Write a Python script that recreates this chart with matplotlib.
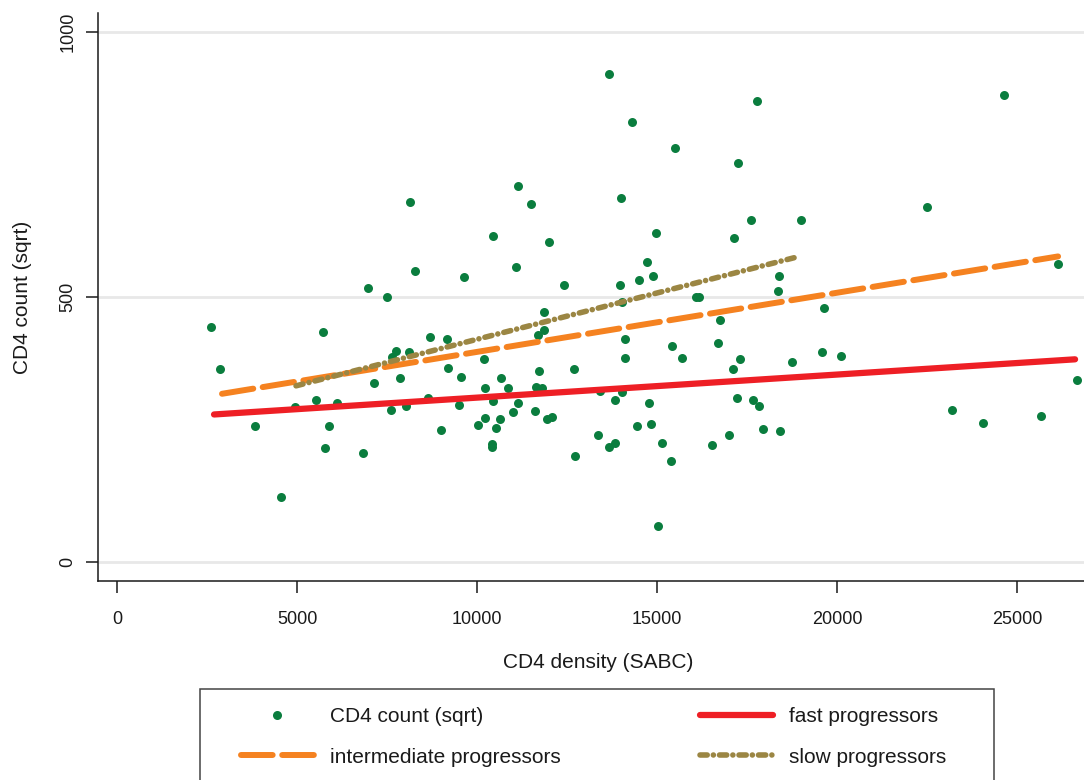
import matplotlib
matplotlib.use("Agg")
import matplotlib.pyplot as plt
from matplotlib.lines import Line2D
from matplotlib.patches import Rectangle

plt.rcParams['font.family'] = ['Liberation Sans', 'DejaVu Sans']

# CD4 density (SABC) vs CD4 count (sqrt)
cd4_density = [2620, 2870, 3825, 4564, 4936, 5537, 5731, 5889, 5787, 6103,
               6981, 6842, 7148, 7509, 7603, 7648, 7759, 8103, 7870, 8028,
               8278, 8703, 8648, 9001, 9176, 9204, 9565, 9509, 9648, 10037,
               10195, 10215, 10231, 10437, 10426, 10426, 10537, 10640, 10676, 10870,
               11009, 11148, 11084, 11612, 11631, 11815, 11731, 11704, 11862, 11862,
               11954, 13659, 14315, 15510, 17788, 17260, 11140, 11509, 10445, 12001,
               12409, 14009, 14965, 14723, 14493, 14882, 13973, 14037, 14121, 15426,
               16704, 16751, 16076, 16168, 17140, 17604, 18993, 18390, 18354, 19640,
               19585, 12076, 12704, 12715, 13418, 13834, 14020, 14121, 13362, 13676,
               13826, 14437, 14779, 14826, 15132, 15382, 15020, 15704, 16537, 17104,
               17307, 17010, 17215, 17676, 17826, 17938, 18410, 18760, 20104, 24641,
               22502, 26141, 26660, 23188, 24066, 25669, 8140]
cd4_count = [443, 364, 257, 122, 293, 305, 433, 257, 215, 300,
             517, 205, 337, 500, 287, 386, 398, 396, 346, 294,
             549, 425, 310, 249, 420, 366, 349, 295, 537, 258,
             383, 327, 272, 303, 222, 217, 252, 269, 347, 327,
             283, 300, 557, 285, 330, 327, 360, 428, 437, 471,
             269, 920, 829, 780, 869, 752, 709, 675, 615, 603,
             522, 686, 621, 565, 532, 540, 522, 490, 420, 407,
             413, 456, 500, 499, 610, 644, 644, 540, 511, 478,
             396, 273, 364, 199, 323, 305, 320, 385, 240, 217,
             225, 257, 300, 260, 224, 191, 67, 385, 220, 364,
             382, 240, 309, 305, 294, 251, 246, 376, 388, 880,
             669, 562, 343, 286, 262, 276, 679]

# fitted lines (end points)
fast_x = [2695, 26613]
fast_y = [278, 382]
inter_x = [2917, 26141]
inter_y = [317, 576]
slow_x = [4973, 18835]
slow_y = [332, 574]

green = '#0a7d3e'
red = '#ee1f25'
orange = '#f58220'
olive = '#9b8643'
txt = '#1a1a1a'

slow_dash = (1.3, 1.1, 0.01, 1.1)
inter_dash = (5.3, 1.6)

fig = plt.figure(figsize=(10.84, 7.8), dpi=100)
ax = fig.add_axes([98/1084, 199/780, 1000/1084, 568/780])

ax.scatter(cd4_density, cd4_count, s=42, color=green, linewidths=0, zorder=3)
ax.plot(fast_x, fast_y, color=red, lw=4.5, solid_capstyle='round', zorder=4)
ax.plot(inter_x, inter_y, color=orange, lw=4.3, dashes=inter_dash,
        dash_capstyle='round', zorder=4)
ax.plot(slow_x, slow_y, color=olive, lw=4.0, dashes=slow_dash,
        dash_capstyle='round', zorder=4)

ax.set_xlim(-528, 27250)
ax.set_ylim(-36, 1035)
ax.set_xticks([0, 5000, 10000, 15000, 20000, 25000])
ax.set_yticks([0, 500, 1000])
ax.yaxis.grid(True, color='#e8e8e8', lw=2.0)
ax.set_axisbelow(True)
for s in ['top', 'right']:
    ax.spines[s].set_visible(False)
for s in ['left', 'bottom']:
    ax.spines[s].set_linewidth(1.1)
    ax.spines[s].set_color(txt)
ax.tick_params(axis='both', length=8.5, width=1.1, color=txt,
               labelsize=13, labelcolor=txt)
ax.tick_params(axis='x', pad=13)
ax.tick_params(axis='y', pad=7)
for lab in ax.get_yticklabels():
    lab.set_rotation(90)
    lab.set_va('center')
ax.set_xlabel('CD4 density (SABC)', fontsize=15, color=txt, labelpad=18)
ax.set_ylabel('CD4 count (sqrt)', fontsize=15, color=txt, labelpad=19.5)

# legend frame (runs off the bottom of the figure)
fig.patches.append(Rectangle((200/1084, -0.05), 794/1084, 0.05 + 91/780,
                             transform=fig.transFigure, fill=False,
                             edgecolor='#444444', lw=1.1))
handles = [
    Line2D([], [], ls='none', marker='o', ms=6.5, color=green, mew=0),
    Line2D([], [], color=orange, lw=4.3, dashes=inter_dash, dash_capstyle='round'),
    Line2D([], [], color=red, lw=4.5, solid_capstyle='round'),
    Line2D([], [], color=olive, lw=4.0, dashes=slow_dash, dash_capstyle='round'),
]
labels = ['CD4 count (sqrt)', 'intermediate progressors',
          'fast progressors', 'slow progressors']
fig.legend(handles, labels, ncol=2, loc='upper left',
           bbox_to_anchor=(241/1084, 1 - 707.5/780), frameon=False,
           borderpad=0, borderaxespad=0, fontsize=15, handlelength=3.5,
           handletextpad=0.77, columnspacing=6.67, labelspacing=1.02,
           labelcolor=txt)

fig.savefig('out.png', dpi=100)
